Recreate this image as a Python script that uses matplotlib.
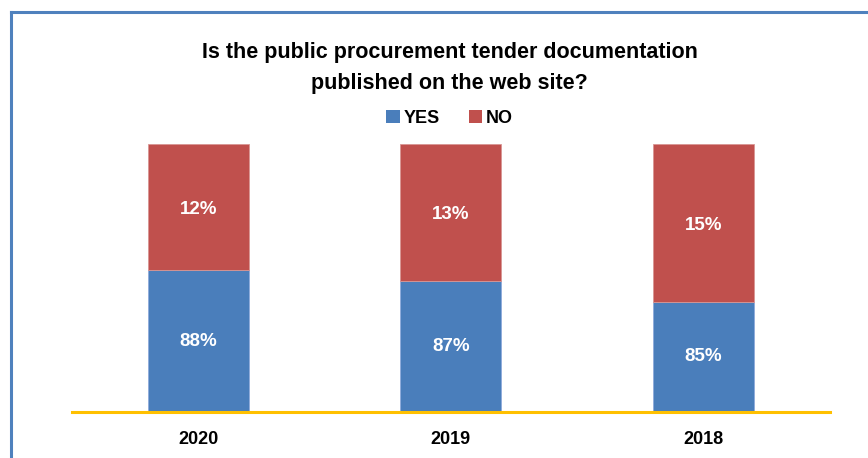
import matplotlib.pyplot as plt
from matplotlib.lines import Line2D
from matplotlib.patches import Patch
import numpy as np

years = ["2020", "2019", "2018"]
yes_pct = [88, 87, 85]
no_pct = [12, 13, 15]

BLUE = "#4A7EBB"
RED = "#C0504D"
GOLD = "#FFC000"
FRAME = "#4F81BD"

plt.rcParams["font.family"] = ["Liberation Sans Narrow", "Liberation Sans", "DejaVu Sans"]

fig = plt.figure(figsize=(8.68, 4.58), dpi=100)
ax = fig.add_axes([0.083, 0.1004, 0.873, 0.5846])

x = np.arange(len(years))
width = 0.4
# the value axis in the original is cut off near 74.5 %, so bars start there
base = 74.5
ax.bar(x, np.array(yes_pct) - base, width, bottom=base, color=BLUE,
       edgecolor="#8EAADB", linewidth=0.6, label="YES")
ax.bar(x, no_pct, width, bottom=yes_pct, color=RED,
       edgecolor="#D99694", linewidth=0.6, label="NO")

for i in range(len(years)):
    ax.text(x[i], (base + yes_pct[i]) / 2, f"{yes_pct[i]}%", ha="center", va="center",
            color="white", fontsize=13.5, fontweight="bold")
    ax.text(x[i], yes_pct[i] + no_pct[i] / 2 - 0.2, f"{no_pct[i]}%", ha="center", va="center",
            color="white", fontsize=13.5, fontweight="bold")

ax.set_xlim(-0.5, 2.5)
ax.set_ylim(base, 100)
ax.set_yticks([])
ax.set_xticks(x)
ax.set_xticklabels(years, fontsize=13, fontweight="bold")
ax.tick_params(axis="x", length=0, pad=14)
for side in ["top", "right", "left"]:
    ax.spines[side].set_visible(False)
ax.spines["bottom"].set_color(GOLD)
ax.spines["bottom"].set_linewidth(2.2)

fig.text(0.518, 0.852, "Is the public procurement tender documentation\npublished on the web site?",
         ha="center", va="center", fontsize=15.5, fontweight="bold", linespacing=1.6)

handles = [Patch(facecolor=BLUE), Patch(facecolor=RED)]
fig.legend(handles, ["YES", "NO"], loc="center", bbox_to_anchor=(0.518, 0.742), ncol=2,
           frameon=False, prop={"size": 13, "weight": "bold"}, handlelength=0.75,
           handleheight=0.75, handletextpad=0.2, columnspacing=1.6)

# frame lines of the original chart box
fig.add_artist(Line2D([11 / 868, 11 / 868], [0, 1 - 12 / 458], color=FRAME, linewidth=2.2,
                      transform=fig.transFigure))
fig.add_artist(Line2D([11 / 868, 1], [1 - 12 / 458, 1 - 12 / 458], color=FRAME, linewidth=2.2,
                      transform=fig.transFigure))

fig.savefig("out.png", dpi=100)
